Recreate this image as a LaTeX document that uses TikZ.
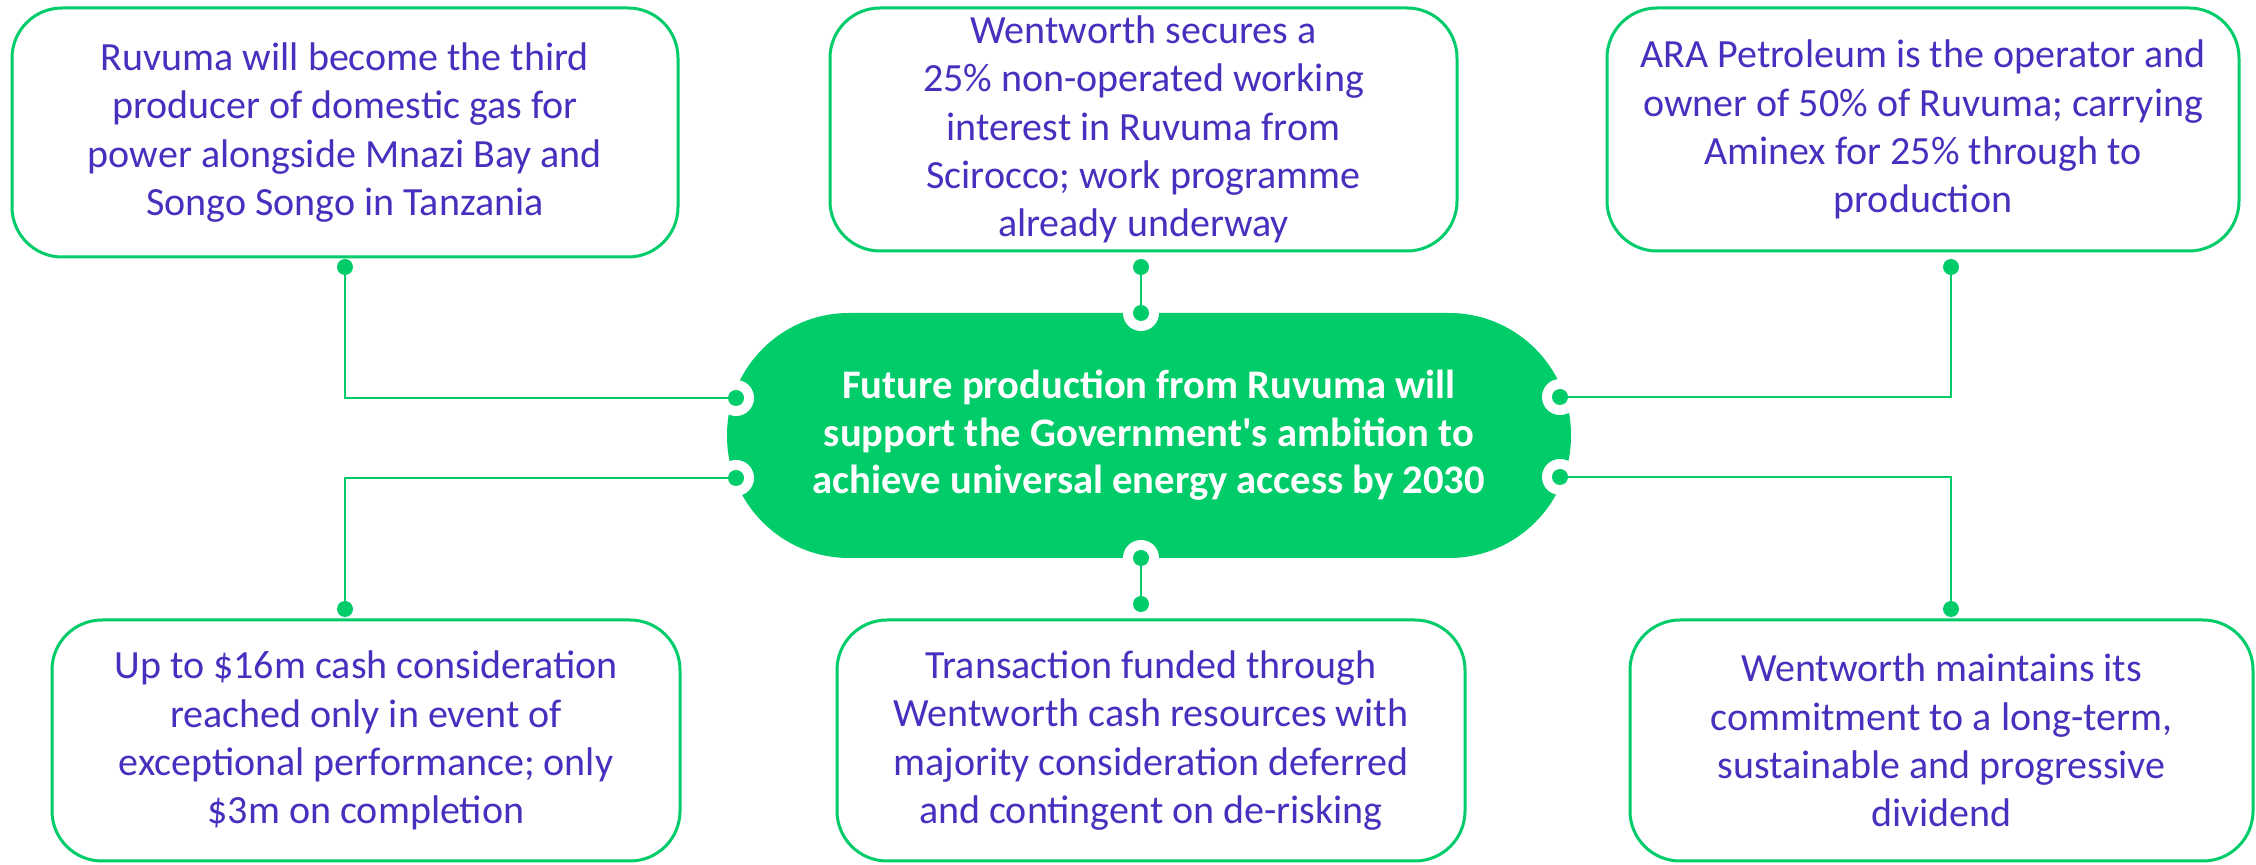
\documentclass[tikz,border=0pt]{standalone}
\usepackage{fontspec}
\setmainfont{Carlito}
\definecolor{grn}{HTML}{00CC6A}
\definecolor{txt}{HTML}{4630BE}
\begin{document}
\begin{tikzpicture}[x=0.5pt,y=-0.5pt,
  box/.style={draw=grn, line width=1.5pt, rounded corners=25pt, fill=white,
    align=center, text=txt, font=\fontsize{20}{24.1}\selectfont, inner sep=0pt},
  pill/.style={fill=grn, rounded corners=61pt, align=center, text=white,
    font=\bfseries\fontsize{20.3}{23.8}\selectfont, inner sep=0pt,
    minimum width=422pt, minimum height=122.5pt},
  conn/.style={draw=grn, line width=1pt},
  dotg/.style={fill=grn},
  ring/.style={fill=white}]
\useasboundingbox (0,0) rectangle (2256,865);

% boxes
\node[box, minimum width=333pt, minimum height=124.5pt] (tl) at (345,132.5)
  {\rule{0pt}{8pt}Ruvuma will become the third\\ producer of domestic gas for\\ power alongside Mnazi Bay and\\ Songo Songo in Tanzania};
\node[box, minimum width=313.5pt, minimum height=121.5pt] (tm) at (1143.5,129.5)
  {Wentworth secures a\\ 25\% non-operated working\\ interest in Ruvuma from\\ Scirocco; work programme\\ already underway};
\node[box, minimum width=316pt, minimum height=121.5pt] (tr) at (1923,129.5)
  {\rule{0pt}{8pt}ARA Petroleum is the operator and\\ owner of 50\% of Ruvuma; carrying\\ Aminex for 25\% through to\\ production};
\node[box, minimum width=314pt, minimum height=120.5pt] (bl) at (366,740.5)
  {Up to \$16m cash consideration\\ reached only in event of\\ exceptional performance; only\\ \$3m on completion};
\node[box, minimum width=314pt, minimum height=120.5pt] (bm) at (1151,740.5)
  {Transaction funded through\\ Wentworth cash resources with\\ majority consideration deferred\\ and contingent on de-risking};
\node[box, minimum width=311.5pt, minimum height=120.5pt] (br) at (1941.5,740.5)
  {Wentworth maintains its\\ commitment to a long-term,\\ sustainable and progressive\\ dividend};

% centre
\node[pill] (c) at (1149,435.5)
  {Future production from Ruvuma will\\ support the Government\textquotesingle s ambition to\\ achieve universal energy access by 2030};

% connection points
\coordinate (pl1) at (736,398);
\coordinate (pl2) at (736,478);
\coordinate (pr1) at (1560,397);
\coordinate (pr2) at (1560,477);
\coordinate (pt) at (1141,313);
\coordinate (pb) at (1141,558);
\coordinate (tld) at (345,267);
\coordinate (tmd) at (1141,267);
\coordinate (trd) at (1951,267);
\coordinate (bld) at (345,609);
\coordinate (bmd) at (1141,604);
\coordinate (brd) at (1951,609);

% white rings cut into the pill
\foreach \p in {pl1,pl2,pr1,pr2,pt,pb}
  \fill[ring] (\p) circle (9pt);

% connectors
\draw[conn] (pl1) -| (tld);
\draw[conn] (pl2) -| (bld);
\draw[conn] (pr1) -| (trd);
\draw[conn] (pr2) -| (brd);
\draw[conn] (pt) -- (tmd);
\draw[conn] (pb) -- (bmd);

% dots
\foreach \p in {pl1,pl2,pr1,pr2,pt,pb,tld,tmd,trd,bld,bmd,brd}
  \fill[dotg] (\p) circle (4pt);
\end{tikzpicture}
\end{document}
